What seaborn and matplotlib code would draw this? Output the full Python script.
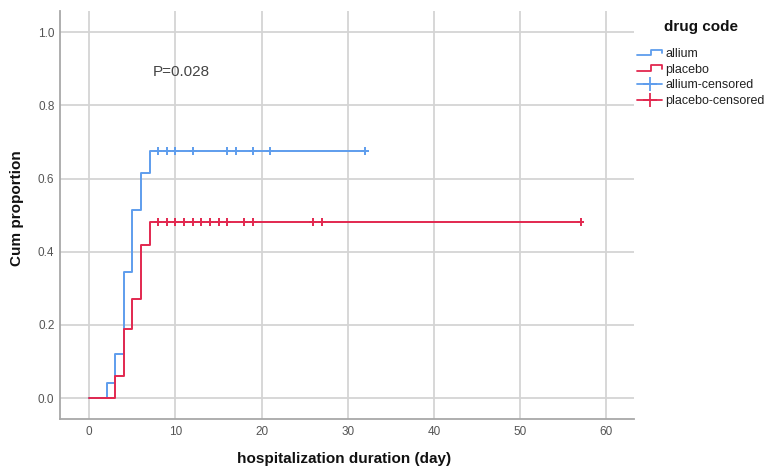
import numpy as np
import pandas as pd
import matplotlib
matplotlib.use("Agg")
import matplotlib.pyplot as plt
from matplotlib.legend_handler import HandlerBase
from matplotlib.lines import Line2D
import seaborn as sns

# ---- data ----
allium_time = [0, 2, 3, 4, 5, 6, 7, 32]
allium_cum = [0.0, 0.042, 0.121, 0.346, 0.513, 0.615, 0.675, 0.675]
placebo_time = [0, 3, 4, 5, 6, 7, 57]
placebo_cum = [0.0, 0.061, 0.189, 0.271, 0.419, 0.481, 0.481]
allium_censored = [8, 9, 10, 12, 16, 17, 19, 21, 32]
placebo_censored = [8, 9, 10, 11, 12, 13, 14, 15, 16, 18, 19, 26, 27, 57]
groups = ["allium", "placebo"]
legend_labels = ["allium", "placebo", "allium-censored", "placebo-censored"]
x_ticks = [0, 10, 20, 30, 40, 50, 60]
y_ticks = [0.0, 0.2, 0.4, 0.6, 0.8, 1.0]
p_text = "P=0.028"

colors = {"allium": "#5e9ded", "placebo": "#e2284f"}

sns.set_style("white")
plt.rcParams["font.family"] = ["Liberation Sans", "DejaVu Sans"]

steps = pd.concat([
    pd.DataFrame({"time": allium_time, "cum": allium_cum, "group": "allium"}),
    pd.DataFrame({"time": placebo_time, "cum": placebo_cum, "group": "placebo"}),
], ignore_index=True)


def value_at(times, cums, t):
    idx = np.searchsorted(times, t, side="right") - 1
    return np.asarray(cums)[idx]


cens = pd.concat([
    pd.DataFrame({"time": allium_censored,
                  "cum": value_at(allium_time, allium_cum, allium_censored),
                  "group": "allium"}),
    pd.DataFrame({"time": placebo_censored,
                  "cum": value_at(placebo_time, placebo_cum, placebo_censored),
                  "group": "placebo"}),
], ignore_index=True)

fig = plt.figure(figsize=(7.66, 4.70), dpi=100)
ax = fig.add_axes([60 / 766, 1 - 419 / 470, 574 / 766, 408 / 470])

sns.lineplot(data=steps, x="time", y="cum", hue="group", palette=colors,
             estimator=None, sort=False, drawstyle="steps-post",
             linewidth=1.4, legend=False, ax=ax)
sns.scatterplot(data=cens, x="time", y="cum", hue="group", palette=colors,
                marker="+", s=32, linewidth=1.4, legend=False, ax=ax, zorder=3)

ax.set_xlim(-3.4, 63.2)
ax.set_ylim(-0.057, 1.058)
ax.set_xticks(x_ticks)
ax.set_yticks(y_ticks)
ax.set_yticklabels([f"{v:.1f}" for v in y_ticks])
ax.grid(True, color="#d4d4d4", linewidth=1.3)
ax.set_axisbelow(True)
ax.tick_params(length=0, labelsize=8.5, colors="#555555")
ax.tick_params(axis="x", pad=5)
ax.tick_params(axis="y", pad=4)
for side in ["top", "right"]:
    ax.spines[side].set_visible(False)
for side in ["left", "bottom"]:
    ax.spines[side].set_color("#a8a8a8")
    ax.spines[side].set_linewidth(1.3)

ax.set_xlabel("hospitalization duration (day)", fontsize=11, fontweight="bold",
              color="#111111")
ax.set_ylabel("Cum proportion", fontsize=11, fontweight="bold", color="#111111")
ax.xaxis.set_label_coords(0.495, -0.08)
ax.yaxis.set_label_coords(-0.062, 0.517)

ax.text(7.4, 0.891, p_text, ha="left", va="center", fontsize=11, color="#444444")


class StepHandler(HandlerBase):
    def create_artists(self, legend, orig_handle, xdescent, ydescent,
                       width, height, fontsize, trans):
        x0 = -xdescent
        y_lo = -ydescent + height * 0.2
        y_hi = -ydescent + height * 0.85
        y_mid = -ydescent + height * 0.45
        xs = [x0, x0 + width * 0.55, x0 + width * 0.55, x0 + width, x0 + width]
        ys = [y_lo, y_lo, y_hi, y_hi, y_mid]
        line = Line2D(xs, ys, color=orig_handle.get_color(),
                      linewidth=orig_handle.get_linewidth(), transform=trans)
        return [line]


h_all = Line2D([], [], color=colors["allium"], linewidth=1.3)
h_pla = Line2D([], [], color=colors["placebo"], linewidth=1.3)
h_allc = Line2D([], [], color=colors["allium"], linewidth=1.3, marker="+",
                markersize=10, markeredgewidth=1.3)
h_plac = Line2D([], [], color=colors["placebo"], linewidth=1.3, marker="+",
                markersize=10, markeredgewidth=1.3)

leg = fig.legend([h_all, h_pla, h_allc, h_plac], legend_labels,
                 handler_map={h_all: StepHandler(), h_pla: StepHandler()},
                 loc="upper left", bbox_to_anchor=(637 / 766, 1 - 48 / 470),
                 frameon=False, borderpad=0, borderaxespad=0,
                 handlelength=2.0, handletextpad=0.25, labelspacing=0.3,
                 fontsize=9)
for t in leg.get_texts():
    t.set_color("#222222")

fig.text(701 / 766, 1 - 27 / 470, "drug code", ha="center", va="center",
         fontsize=11, fontweight="bold", color="#111111")

fig.savefig("out.png", dpi=100)
